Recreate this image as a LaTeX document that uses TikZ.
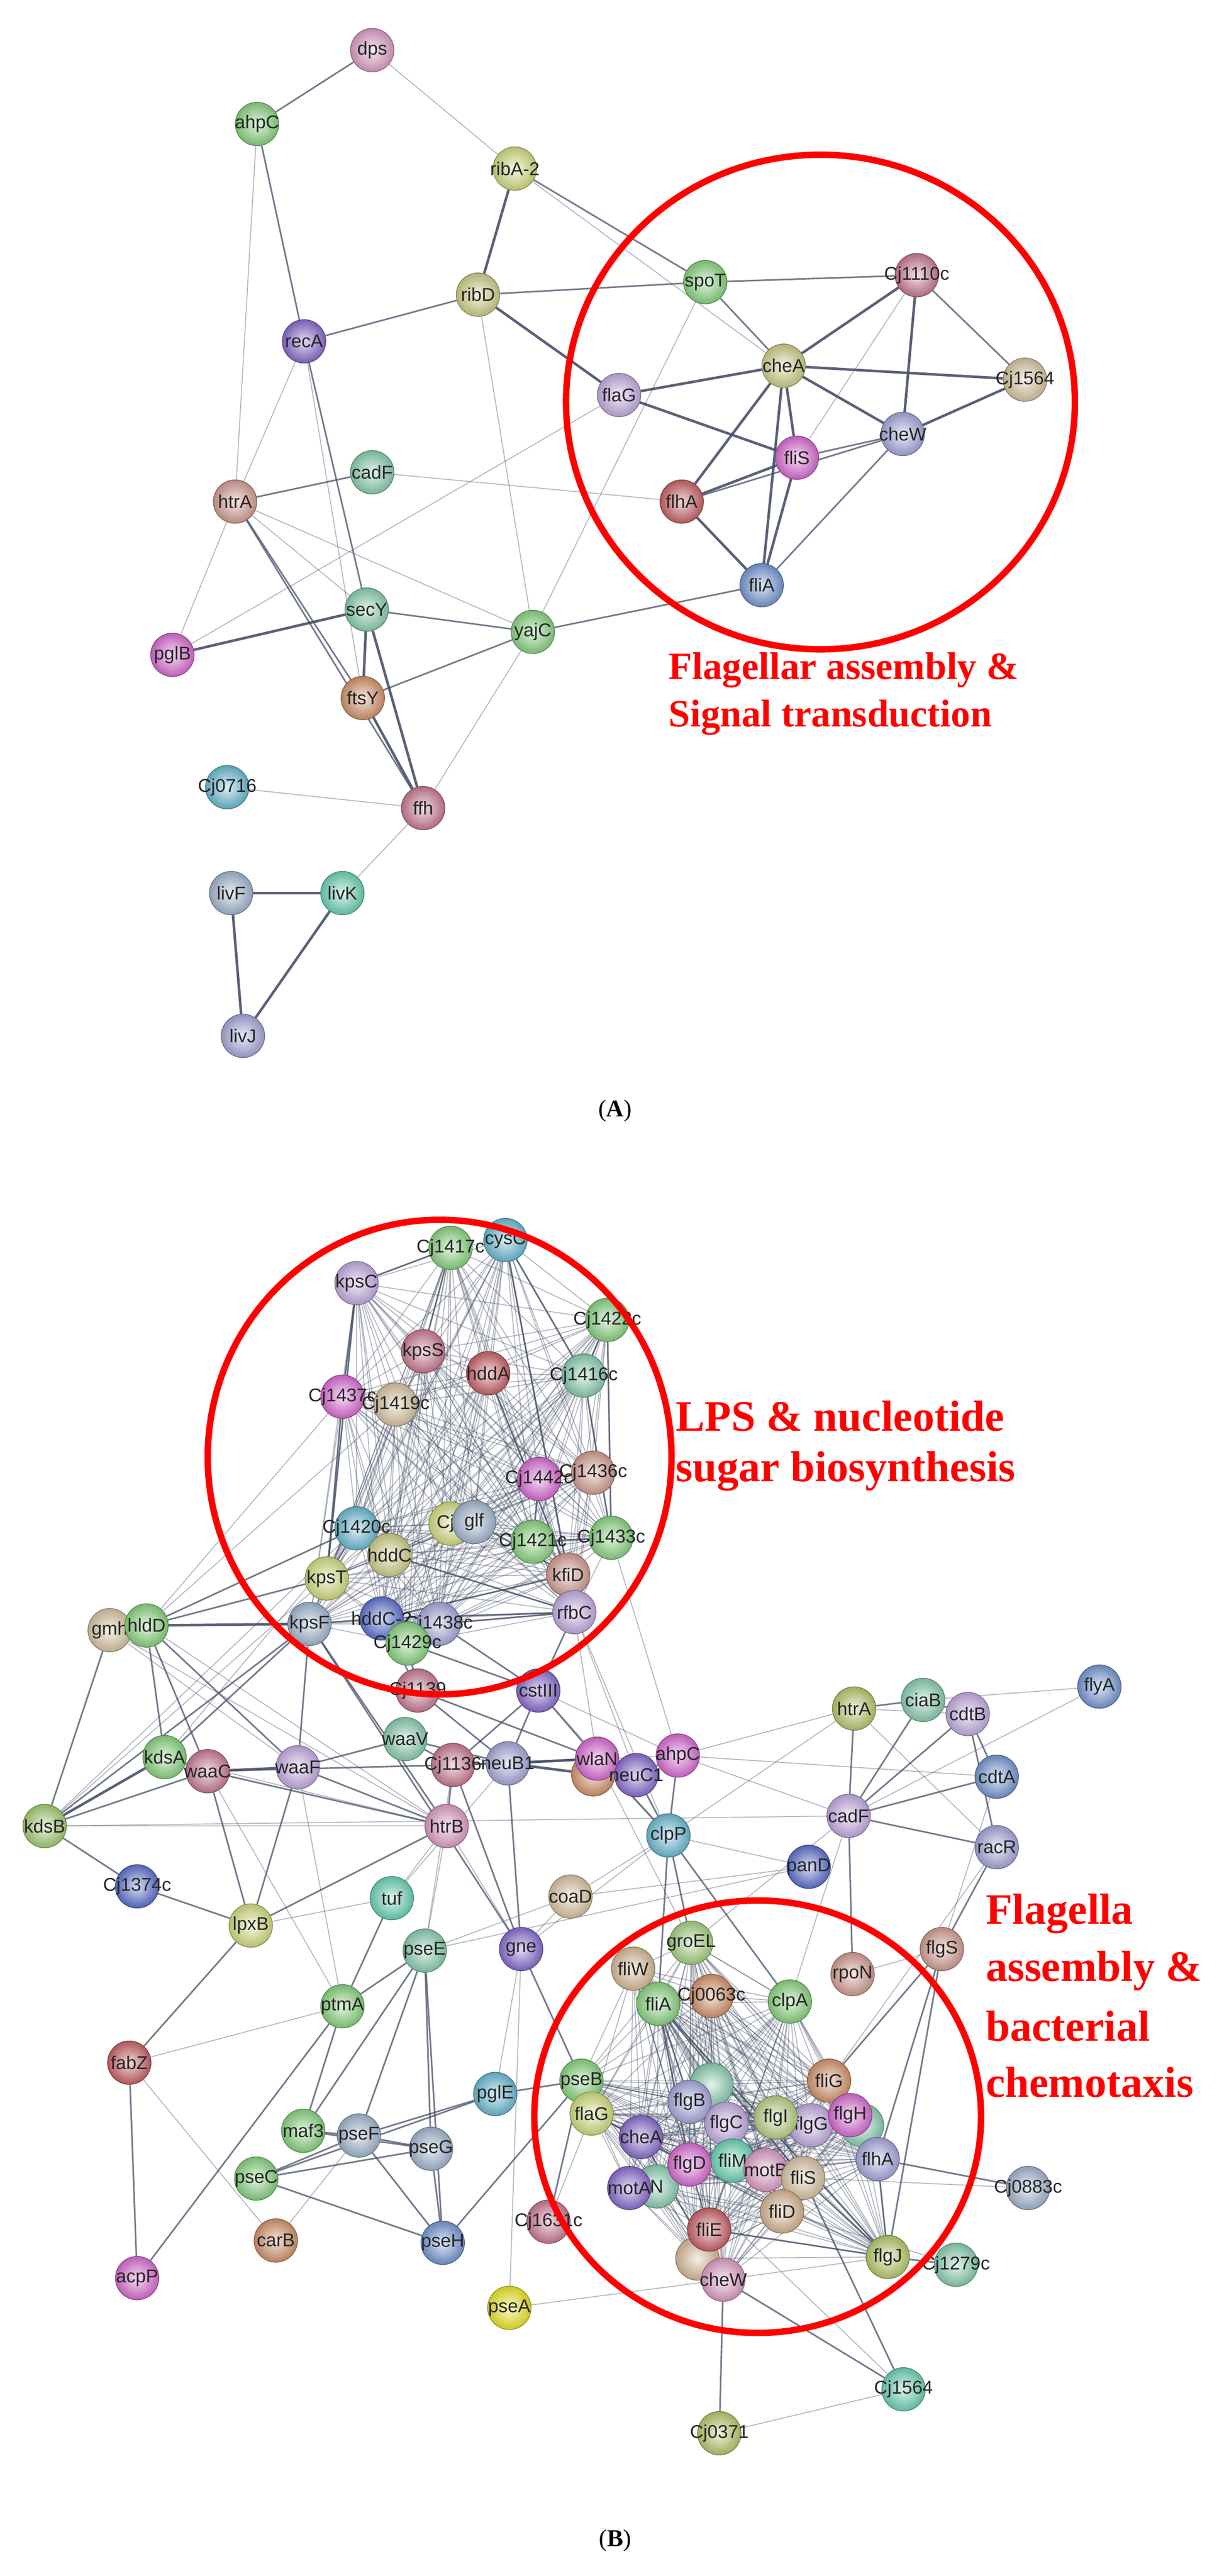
\documentclass[tikz,border=0pt]{standalone}
\usepackage{fontspec}
\setmainfont{Liberation Serif}
\setsansfont{Liberation Sans}
\usetikzlibrary{backgrounds}
\definecolor{cGreen}{RGB}{140,215,130}
\definecolor{cPink}{RGB}{225,160,200}
\definecolor{cOliveL}{RGB}{210,210,140}
\definecolor{cPurple}{RGB}{140,110,210}
\definecolor{cLav}{RGB}{200,175,230}
\definecolor{cRose}{RGB}{205,125,150}
\definecolor{cBrown}{RGB}{215,160,150}
\definecolor{cTeal}{RGB}{140,210,180}
\definecolor{cBlue}{RGB}{120,155,215}
\definecolor{cMag}{RGB}{220,110,215}
\definecolor{cOrange}{RGB}{215,150,110}
\definecolor{cCyan}{RGB}{110,190,215}
\definecolor{cTan}{RGB}{220,200,165}
\definecolor{cSteel}{RGB}{165,185,210}
\definecolor{cAqua}{RGB}{110,215,185}
\definecolor{cPeri}{RGB}{170,170,225}
\definecolor{cRed}{RGB}{205,100,105}
\definecolor{cOlive}{RGB}{185,205,110}
\definecolor{cDkBlue}{RGB}{95,115,210}
\definecolor{cYel}{RGB}{240,235,40}
\definecolor{cYellowG}{RGB}{215,225,130}
\definecolor{edgeC}{RGB}{70,80,105}
\tikzset{
 g/.style={circle, minimum size=27pt, inner sep=0pt, inner color=#1!25!white, outer color=#1!85!black,
   draw=#1!60!black, line width=0.4pt, font=\sffamily\fontsize{11.5}{11.5}\selectfont, text=black!85,
   execute at begin node={\hbox to 0pt\bgroup\hss}, execute at end node={\hss\egroup}},
 lt/.style={draw=edgeC, line width=0.6pt, opacity=0.4},
 md/.style={draw=edgeC, line width=1pt, opacity=0.75},
 dk/.style={draw=edgeC, line width=1.6pt, opacity=0.9},
 vlt/.style={draw=edgeC, line width=0.6pt, opacity=0.4},
 redc/.style={draw=red, line width=4pt},
 lab/.style={font=\bfseries\fontsize{24}{24}\selectfont, text=red, anchor=west, inner sep=0pt},
 labB/.style={font=\bfseries\fontsize{27}{27}\selectfont, text=red, anchor=west, inner sep=0pt}
}
\begin{document}
\begin{tikzpicture}[x=1pt,y=-1pt]
\useasboundingbox (0,0) rectangle (763,1600);
\begin{pgfonlayer}{background}
\fill[white] (0,0) rectangle (763,1600);
\end{pgfonlayer}
% ---------------- Panel A ----------------
\begin{scope}[xscale=0.4866,yscale=0.4327]
\node[g=cPink] (dps) at (475,72) {dps};
\node[g=cGreen] (ahpC) at (328,178) {ahpC};
\node[g=cYellowG] (ribAii) at (657,242) {ribA-2};
\node[g=cOliveL] (ribD) at (610,423) {ribD};
\node[g=cGreen] (spoT) at (900,405) {spoT};
\node[g=cRose] (CjA1110c) at (1170,395) {Cj1110c};
\node[g=cPurple] (recA) at (388,490) {recA};
\node[g=cOliveL] (cheA) at (1000,525) {cheA};
\node[g=cTan] (CjA1564) at (1308,545) {Cj1564};
\node[g=cLav] (flaG) at (790,567) {flaG};
\node[g=cPeri] (cheW) at (1152,623) {cheW};
\node[g=cMag] (fliS) at (1017,657) {fliS};
\node[g=cTeal] (cadF) at (475,678) {cadF};
\node[g=cBrown] (htrA) at (300,720) {htrA};
\node[g=cRed] (flhA) at (870,720) {flhA};
\node[g=cBlue] (fliA) at (972,840) {fliA};
\node[g=cTeal] (secY) at (468,875) {secY};
\node[g=cGreen] (yajC) at (680,907) {yajC};
\node[g=cMag] (pglB) at (220,940) {pglB};
\node[g=cOrange] (ftsY) at (463,1002) {ftsY};
\node[g=cCyan] (Cj0716) at (290,1130) {Cj0716};
\node[g=cRose] (ffh) at (540,1160) {ffh};
\node[g=cSteel] (livF) at (295,1282) {livF};
\node[g=cAqua] (livK) at (437,1282) {livK};
\node[g=cPeri] (livJ) at (310,1487) {livJ};
\end{scope}
\begin{pgfonlayer}{background}
\foreach \a/\b in {dps/ribAii, ahpC/htrA, ribAii/cheA, ribD/yajC, spoT/yajC, CjA1110c/fliS,
  flaG/pglB, flhA/cadF, recA/htrA, recA/ftsY, htrA/pglB, htrA/secY, htrA/yajC, yajC/ffh, Cj0716/ffh, ffh/livK}
  \draw[lt] (\a) -- (\b);
\foreach \a/\b in {dps/ahpC, ahpC/recA, ribAii/spoT, ribD/recA, ribD/spoT, spoT/CjA1110c, spoT/cheA,
  CjA1110c/CjA1564, cheW/fliS, cheW/flhA, cheW/fliA, fliA/yajC, recA/secY, cadF/htrA, htrA/ftsY, htrA/ffh,
  secY/yajC, yajC/ftsY}
  \draw[md] (\a) -- (\b);
\foreach \a/\b in {ribAii/ribD, ribD/flaG, CjA1110c/cheA, CjA1110c/cheW, cheA/flaG, cheA/CjA1564, cheA/cheW,
  cheA/fliS, cheA/flhA, cheA/fliA, CjA1564/cheW, flaG/fliS, fliS/flhA, fliS/fliA, flhA/fliA, secY/pglB,
  secY/ftsY, secY/ffh, ftsY/ffh, livF/livK, livF/livJ, livK/livJ}
  \draw[dk] (\a) -- (\b);
\end{pgfonlayer}
\draw[redc] (509.5,249.7) ellipse [x radius=158, y radius=153.6];
\node[lab] at (415,416.3) {Flagellar assembly \&};
\node[lab] at (415,445.7) {Signal transduction};
\node[font=\fontsize{15}{15}\selectfont] at (382,690) {(\textbf{A})};
% ---------------- Panel B ----------------
\begin{scope}[shift={(0,755.6)},scale=0.4866]
\node[g=cGreen] (bCj1417c) at (575,40) {Cj1417c};
\node[g=cCyan] (bcysC) at (645,30) {cysC};
\node[g=cLav] (bkpsC) at (455,85) {kpsC};
\node[g=cGreen] (bCj1422c) at (775,132) {Cj1422c};
\node[g=cRose] (bkpsS) at (540,172) {kpsS};
\node[g=cRed] (bhddA) at (623,200) {hddA};
\node[g=cTeal] (bCj1416c) at (745,203) {Cj1416c};
\node[g=cMag] (bCj1437c) at (437,230) {Cj1437c};
\node[g=cTan] (bCj1419c) at (505,240) {Cj1419c};
\node[g=cMag] (bCj1442c) at (688,335) {Cj1442c};
\node[g=cBrown] (bCj1436c) at (757,327) {Cj1436c};
\node[g=cCyan] (bCj1420c) at (455,398) {Cj1420c};
\node[g=cYellowG] (bCjone) at (575,392) {Cj1};
\node[g=cSteel] (bglf) at (605,390) {glf};
\node[g=cGreen] (bCj1421c) at (680,415) {Cj1421c};
\node[g=cGreen] (bCj1433c) at (780,410) {Cj1433c};
\node[g=cOliveL] (bhddC) at (497,432) {hddC};
\node[g=cBrown] (bkfiD) at (725,457) {kfiD};
\node[g=cYellowG] (bkpsT) at (417,462) {kpsT};
\node[g=cLav] (brfbC) at (733,505) {rfbC};
\node[g=cSteel] (bkpsF) at (395,520) {kpsF};
\node[g=cDkBlue] (bhddCii) at (487,513) {hddC-2};
\node[g=cPeri] (bCj1438c) at (560,520) {Cj1438c};
\node[g=cGreen] (bCj1429c) at (520,545) {Cj1429c};
\node[g=cTan] (bgmh) at (140,528) {gmh};
\node[g=cGreen] (bhldD) at (187,522) {hldD};
\node[g=cRose] (bCj1139) at (533,605) {Cj1139};
\node[g=cPurple] (bcstIII) at (687,605) {cstIII};
\node[g=cTeal] (bwaaV) at (517,667) {waaV};
\node[g=cGreen] (bkdsA) at (210,690) {kdsA};
\node[g=cRose] (bwaaC) at (265,708) {waaC};
\node[g=cLav] (bwaaF) at (380,703) {waaF};
\node[g=cRose] (bCj1136) at (578,700) {Cj1136};
\node[g=cPeri] (bneuBi) at (648,698) {neuB1};
\node[g=cOrange] (bhid) at (757,712) {};
\node[g=cMag] (bwlaN) at (762,692) {wlaN};
\node[g=cPurple] (bneuCi) at (812,713) {neuC1};
\node[g=cMag] (bahpC) at (865,688) {ahpC};
\node[g=cOlive] (bhtrA) at (1090,628) {htrA};
\node[g=cTeal] (bciaB) at (1178,617) {ciaB};
\node[g=cLav] (bcdtB) at (1235,635) {cdtB};
\node[g=cBlue] (bflyA) at (1403,600) {flyA};
\node[g=cBlue] (bcdtA) at (1272,715) {cdtA};
\node[g=cOlive!60!cGreen] (bkdsB) at (57,778) {kdsB};
\node[g=cPink] (bhtrB) at (570,778) {htrB};
\node[g=cLav] (bcadF) at (1083,765) {cadF};
\node[g=cCyan] (bclpP) at (853,790) {clpP};
\node[g=cPeri] (bracR) at (1272,805) {racR};
\node[g=cDkBlue] (bpanD) at (1032,830) {panD};
\node[g=cDkBlue] (bCj1374c) at (175,855) {Cj1374c};
\node[g=cAqua] (btuf) at (500,870) {tuf};
\node[g=cTan] (bcoaD) at (728,868) {coaD};
\node[g=cYellowG] (blpxB) at (320,905) {lpxB};
\node[g=cBrown] (bflgS) at (1202,935) {flgS};
\node[g=cTeal] (bpseE) at (542,937) {pseE};
\node[g=cPurple] (bgne) at (665,935) {gne};
\node[g=cGreen!60!cOliveL] (bgroEL) at (882,927) {groEL};
\node[g=cTan!80!cOrange] (bfliW) at (808,960) {fliW};
\node[g=cBrown] (brpoN) at (1088,967) {rpoN};
\node[g=cGreen] (bptmA) at (437,1008) {ptmA};
\node[g=cRed] (bfabZ) at (165,1080) {fabZ};
\node[g=cCyan] (bpglE) at (632,1120) {pglE};
\node[g=cGreen] (bmaf3) at (387,1167) {maf3};
\node[g=cSteel] (bpseF) at (458,1173) {pseF};
\node[g=cSteel] (bpseG) at (550,1190) {pseG};
\node[g=cGreen] (bpseC) at (327,1228) {pseC};
\node[g=cOrange] (bcarB) at (352,1307) {carB};
\node[g=cBlue] (bpseH) at (565,1310) {pseH};
\node[g=cMag] (bacpP) at (175,1355) {acpP};
\node[g=cRose] (bCj1631c) at (700,1283) {Cj1631c};
\node[g=cYel] (bpseA) at (650,1393) {pseA};
\node[g=cSteel] (bCj0883c) at (1312,1240) {Cj0883c};
\node[g=cTeal] (bCj1279c) at (1220,1338) {Cj1279c};
\node[g=cAqua] (bCj1564) at (1153,1497) {Cj1564};
\node[g=cOlive] (bCj0371) at (918,1553) {Cj0371};
\node[g=cGreen] (bfliA) at (840,1005) {fliA};
\node[g=cOrange] (bCj0063c) at (908,995) {Cj0063c};
\node[g=cGreen] (bclpA) at (1008,1002) {clpA};
\node[g=cOrange] (bfliG) at (1058,1103) {fliG};
\node[g=cGreen] (bpseB) at (742,1103) {pseB};
\node[g=cTeal] (bfliI) at (908,1108) {};
\node[g=cTeal] (bhidT) at (1100,1160) {};
\node[g=cYellowG] (bflaG) at (755,1145) {flaG};
\node[g=cPeri] (bflgB) at (880,1130) {flgB};
\node[g=cLav] (bflgC) at (927,1158) {flgC};
\node[g=cLav] (bflgG) at (1035,1160) {flgG};
\node[g=cOliveL!70!cGreen] (bflgI) at (990,1150) {flgI};
\node[g=cMag] (bflgH) at (1085,1147) {flgH};
\node[g=cPurple] (bcheA) at (818,1175) {cheA};
\node[g=cAqua] (bfliM) at (935,1205) {fliM};
\node[g=cTeal] (bfliN) at (838,1238) {N};
\node[g=cMag] (bflgD) at (880,1210) {flgD};
\node[g=cPink] (bmotB) at (977,1217) {motB};
\node[g=cTan] (bfliS) at (1025,1227) {fliS};
\node[g=cPeri] (bflhA) at (1120,1203) {flhA};
\node[g=cPurple] (bmotA) at (803,1240) {motA};
\node[g=cTan!70!cOrange] (bfliD) at (998,1270) {fliD};
\node[g=cTan!80!cOrange] (bfliC) at (890,1330) {};
\node[g=cRed] (bfliE) at (905,1293) {fliE};
\node[g=cPink] (bcheW) at (923,1357) {cheW};
\node[g=cOlive] (bflgJ) at (1133,1328) {flgJ};
\end{scope}
\begin{pgfonlayer}{background}
\def\Llist{bCj1417c,bcysC,bkpsC,bCj1422c,bkpsS,bhddA,bCj1416c,bCj1437c,bCj1419c,bCj1442c,bCj1436c,bCj1420c,bCjone,bglf,bCj1421c,bCj1433c,bhddC,bkfiD,bkpsT,brfbC,bkpsF,bhddCii,bCj1438c,bCj1429c}
\foreach \a [count=\i] in \Llist {\foreach \b [count=\j] in \Llist {\ifnum\j>\i \draw[vlt] (\a) -- (\b);\fi}}
\def\Flist{bfliA,bCj0063c,bfliW,bgroEL,bclpA,bfliG,bpseB,bfliI,bflaG,bflgB,bflgC,bflgG,bflgI,bflgH,bcheA,bfliM,bfliN,bflgD,bmotB,bfliS,bflhA,bmotA,bfliD,bfliC,bfliE,bcheW,bflgJ,bhidT}
\foreach \a [count=\i] in \Flist {\foreach \b [count=\j] in \Flist {\ifnum\j>\i \draw[vlt] (\a) -- (\b);\fi}}
\foreach \a/\b in {bkpsC/bCj1417c, bkpsC/bCj1437c, bcysC/bCj1416c, bCj1417c/bkpsS, bCj1422c/bCj1416c, bCj1416c/bCj1433c,
  bhddA/bkfiD, bCj1437c/bkpsT, bCj1420c/bkpsT, bCj1442c/bCj1421c, bhddCii/bkfiD, bhddCii/brfbC, bkpsF/bhddCii,
  bCj1438c/brfbC, bglf/bkfiD, bhddC/brfbC, bCj1421c/bCj1433c, bkpsC/bkpsT, bCj1422c/bCj1433c, bcysC/bkfiD,
  bfliA/bflgB, bfliA/bflgD, bfliA/bfliS, bfliA/bflgJ, bflhA/bflgJ, bfliS/bflgJ, bfliE/bflgJ, bcheA/bcheW, bflaG/bflgD}
  \draw[md] (\a) -- (\b);
\foreach \a/\b in {bneuBi/bwlaN, bneuBi/bhid, bhldD/bkpsF, bkdsB/bkdsA, bwaaC/bwaaF}
  \draw[dk] (\a) -- (\b);
\foreach \a/\b in {bgmh/bhldD, bhldD/bCj1420c, bhldD/bkpsT, bhldD/bwaaC, bhldD/bkdsA, bhldD/bwaaF, bgmh/bkdsB,
  bkdsB/bwaaC, bkdsB/bkpsF, bkdsA/bwaaC, bkdsA/bkpsF, bwaaC/bCj1136, bwaaC/bhtrB, bwaaC/blpxB,
  bwaaF/bhtrB, bwaaF/bwaaV, bwaaF/blpxB, bwaaF/bkpsF, bwaaV/bCj1136, bwaaV/bneuBi, bCj1139/bCj1429c, bCj1139/bneuBi,
  bCj1139/bwlaN, bCj1136/bneuBi, bwlaN/bneuCi, bwlaN/bcstIII, bcstIII/bneuBi, bcstIII/bCj1136, bcstIII/brfbC,
  bcstIII/bCj1438c, bneuCi/bahpC, bahpC/bclpP, bhtrA/bciaB, bhtrA/bcadF, bciaB/bcdtB, bciaB/bcadF, bcdtB/bcdtA,
  bcdtB/bracR, bcdtB/bcadF, bcdtA/bcadF, bcadF/bracR, bracR/bflgS, bclpP/bclpA, bclpP/bfliA, bclpP/bgroEL,
  bCj1374c/blpxB, blpxB/bhtrB, blpxB/bfabZ, btuf/bptmA, bpseE/bptmA, bpseE/bmaf3, bpseE/bpseF, bpseE/bpseG,
  bpseE/bpseH, bptmA/bmaf3, bptmA/bacpP, bgne/bpseB, bgne/bCj1136, bgne/bneuBi, bpglE/bpseB, bpglE/bpseF,
  bpglE/bpseC, bpseF/bpseG, bpseF/bpseH, bpseF/bmaf3, bpseF/bpseC, bpseG/bpseH, bpseG/bpseC, bpseC/bpseH,
  bmaf3/bpseG, bpseH/bpseB, bfabZ/bacpP, bCj0883c/bflhA, bCj1279c/bflgJ, bCj1564/bcheW, bCj1564/bfliS,
  bCj0371/bcheW, bflgS/bfliG, bflgS/bflhA, bflgS/bflgJ, brpoN/bcadF, bkdsB/bCj1374c, bkpsF/bgne, bkpsF/bhtrB,
  bhtrB/bCj1136, bpseB/bCj1631c, bwlaN/bclpP, bneuCi/bclpP, bCj1136/bwlaN, bCj1429c/bcstIII, bhddCii/bCj1139}
  \draw[md] (\a) -- (\b);
\foreach \a/\b in {bkdsB/bcadF, bkdsB/bhtrB, bahpC/bhtrA, bahpC/bcadF, bahpC/bcdtA, bciaB/bflyA, bflyA/bcadF,
  bhtrA/bracR, bhtrA/bcdtB, bclpP/bcoaD, bclpP/bpanD, bclpP/bgne, bpanD/bcoaD, bracR/bfliG, bgroEL/bclpA,
  bcoaD/bpseE, bhldD/bCj1437c, bkdsB/bkpsT, bgne/bpglE, bpseA/bgne, bpseA/bcheW, bfabZ/bcarB, bcarB/bpseF,
  bCj1631c/bflaG, bCj0883c/bfliS, bCj1279c/bfliD, bCj1564/bcheA, bCj0371/bCj1564, brpoN/bflgS, btuf/bhtrB,
  btuf/blpxB, bCj1420c/bkdsB, bgmh/bwaaF, bgmh/bhtrB, bkdsA/bhtrB, bhldD/bhtrB, bwaaC/bptmA, bwaaF/bptmA,
  bpseE/bCj1136, bgne/bhtrB, btuf/bneuBi, bfabZ/bptmA, bhtrB/bpseE, bahpC/bneuBi, bcdtA/bflgS, bhtrA/bclpP,
  bcadF/bclpA, bcadF/bgroEL, bpanD/bpseE, bcoaD/bgne, bwlaN/bgroEL, bcstIII/bclpP, bcstIII/bahpC,
  brfbC/bclpP, bkfiD/bwlaN, brfbC/bneuCi, bCj1433c/bahpC, bhldD/bCj1419c, bkdsA/bCj1420c}
  \draw[lt] (\a) -- (\b);
\end{pgfonlayer}
\draw[redc] (273,905) ellipse [x radius=144, y radius=147.4];
\draw[redc] (470.5,1314.7) ellipse [x radius=138.7, y radius=134.3];
\node[labB] at (419.5,879.7) {LPS \& nucleotide};
\node[labB] at (419.5,913.7) {sugar biosynthesis};
\node[labB] at (612,1188.7) {Flagella};
\node[labB] at (612,1224.2) {assembly \&};
\node[labB] at (612,1258.3) {bacterial};
\node[labB] at (612,1293.3) {chemotaxis};
\node[font=\fontsize{15}{15}\selectfont] at (382,1578) {(\textbf{B})};
\end{tikzpicture}
\end{document}
